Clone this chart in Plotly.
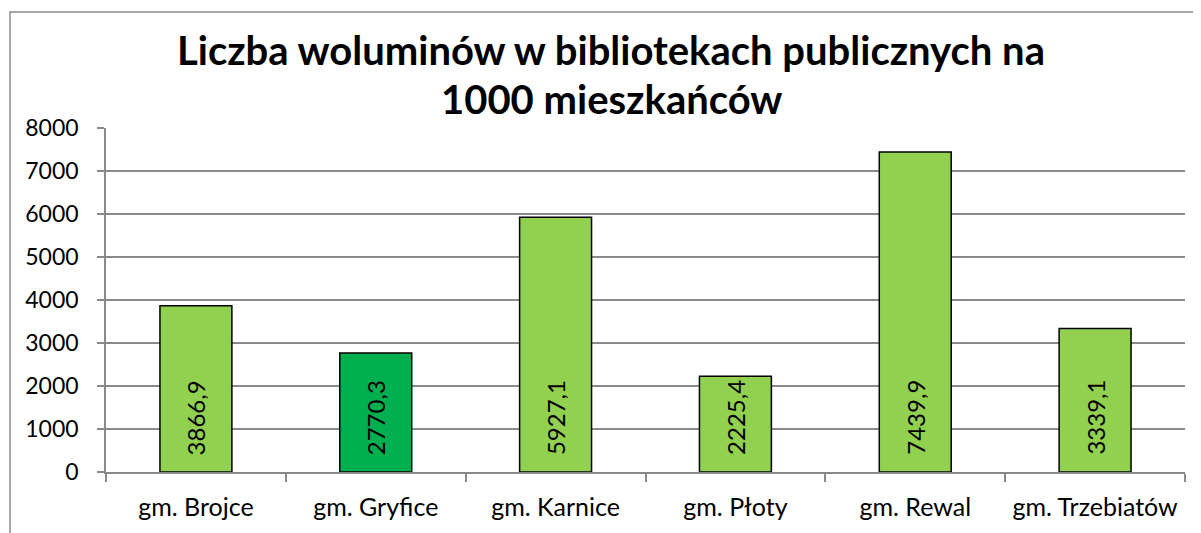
import plotly.graph_objects as go

categories = ["gm. Brojce", "gm. Gryfice", "gm. Karnice", "gm. Płoty", "gm. Rewal", "gm. Trzebiatów"]
values = [3866.9, 2770.3, 5927.1, 2225.4, 7439.9, 3339.1]
labels = ["3866,9", "2770,3", "5927,1", "2225,4", "7439,9", "3339,1"]
bar_colors = ["#92D050", "#00B050", "#92D050", "#92D050", "#92D050", "#92D050"]
y_ticks = [0, 1000, 2000, 3000, 4000, 5000, 6000, 7000, 8000]
title_lines = ["Liczba woluminów w bibliotekach publicznych na", "1000 mieszkańców"]

OFF = 8  # page body margin
W, H = 1201 - OFF, 533 - OFF
L, R, T, B = 106, 1185, 128, 472  # target page pixel coords of plot area
pw, ph = R - L, B - T

def px_x(x):
    return (x - L) / pw

def px_y(y):
    return (B - y) / ph

FONT = "Lato"
GRID = "#8A8A8A"

fig = go.Figure()
fig.add_trace(go.Bar(
    x=categories, y=values,
    marker=dict(color=bar_colors, line=dict(color="#000000", width=1.5)),
    hoverinfo="skip",
))

for c, t in zip(categories, labels):
    fig.add_annotation(
        x=c, y=0, xref="x", yref="y", text=t, textangle=-90,
        showarrow=False, yanchor="bottom", xanchor="center", yshift=15,
        font=dict(family=FONT, size=24, color="#000000"),
    )

fig.add_annotation(x=px_x(611), y=px_y(50), xref="paper", yref="paper",
                   text="<b>" + title_lines[0] + "</b>", showarrow=False,
                   xanchor="center", yanchor="middle",
                   font=dict(family=FONT, size=40, color="#000000"))
fig.add_annotation(x=px_x(611), y=px_y(99), xref="paper", yref="paper",
                   text="<b>" + title_lines[1] + "</b>", showarrow=False,
                   xanchor="center", yanchor="middle",
                   font=dict(family=FONT, size=40, color="#000000"))

fig.add_shape(type="rect", xref="paper", yref="paper",
              x0=px_x(10), y0=px_y(12), x1=px_x(1230), y1=px_y(560),
              line=dict(color="#898989", width=1.5), fillcolor="rgba(0,0,0,0)",
              layer="below")

fig.update_layout(
    width=W, height=H,
    margin=dict(l=L - OFF, r=W - (R - OFF), t=T - OFF, b=H - (B - OFF), pad=0),
    paper_bgcolor="white", plot_bgcolor="white",
    bargap=0.6, showlegend=False,
    font=dict(family=FONT, size=23, color="#000000"),
    xaxis=dict(
        type="category", showline=True, linecolor=GRID, linewidth=1.5,
        ticks="outside", tickson="boundaries", ticklen=8, tickcolor=GRID, tickwidth=1.5,
        showgrid=False, tickfont=dict(family=FONT, size=25, color="#000000"),
        ticklabelstandoff=12,
    ),
    yaxis=dict(
        range=[0, 8000], tickvals=y_ticks, showline=True, linecolor=GRID, linewidth=1.5,
        ticks="outside", ticklen=7, tickcolor=GRID, tickwidth=1.5,
        showgrid=True, gridcolor=GRID, gridwidth=1.5, zeroline=False,
        tickfont=dict(family=FONT, size=23, color="#000000"),
        ticklabelstandoff=14,
    ),
)

fig.write_html("out.html")
